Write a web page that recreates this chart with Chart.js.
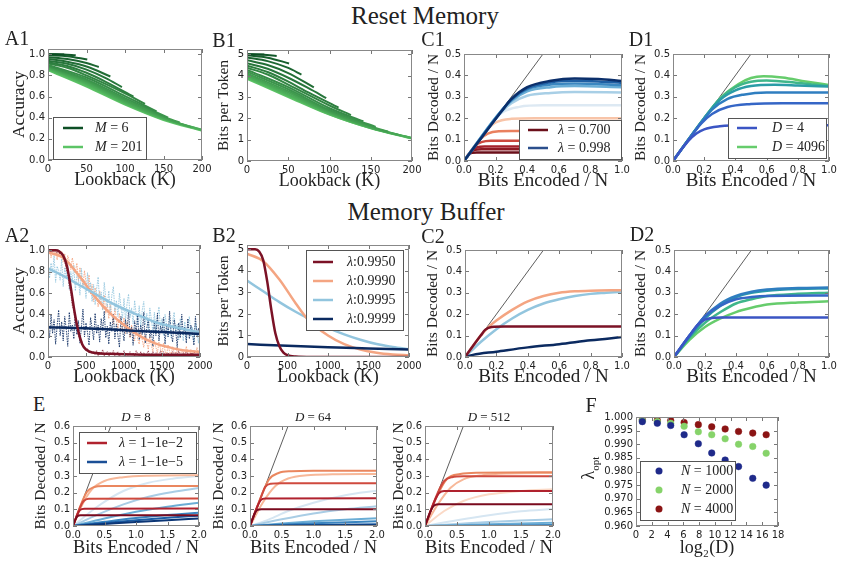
<!DOCTYPE html>
<html>
<head>
<meta charset="utf-8">
<script src="https://cdn.jsdelivr.net/npm/chart.js@4.4.0/dist/chart.umd.min.js"></script>
<style>
  body { margin: 0; background: #fff; width: 842px; height: 564px; position: relative; overflow: hidden; }
  canvas { position: absolute; }
  .lbl { position: absolute; font-family: 'Liberation Serif', serif; color: #222; white-space: nowrap; line-height: 1; }
</style>
</head>
<body>
<script>
// ---- tick values ----
const lookbackShort = [0, 50, 100, 150, 200];
const lookbackLong = [0, 500, 1000, 1500, 2000];
const accTicks = [0, 0.2, 0.4, 0.6, 0.8, 1.0];
const bitsTicks = [0, 1, 2, 3, 4, 5];
const encTicks = [0, 0.2, 0.4, 0.6, 0.8, 1.0];
const decTicks = [0, 0.1, 0.2, 0.3, 0.4, 0.5];
const eEncTicks = [0, 0.5, 1.0, 1.5, 2.0];
const eDecTicks = [0, 0.1, 0.2, 0.3, 0.4, 0.5, 0.6];
const fXTicks = [0, 2, 4, 6, 8, 10, 12, 14, 16, 18];
const fYTicks = [0.960, 0.965, 0.970, 0.975, 0.980, 0.985, 0.990, 0.995, 1.000];

// ---- A1 / B1 : reset memory, one curve per M (M=6 ... M=201) ----
const a1Curves = [
  [[0, 1.0], [10, 1.0], [21, 0.998]],
  [[0, 1.0], [20, 0.998], [36, 0.99]],
  [[0, 0.99], [25, 0.982], [51, 0.95]],
  [[0, 0.972], [25, 0.955], [50, 0.918], [66, 0.88]],
  [[0, 0.955], [25, 0.93], [50, 0.885], [81, 0.79]],
  [[0, 0.938], [25, 0.91], [50, 0.855], [75, 0.775], [96, 0.69]],
  [[0, 0.924], [25, 0.89], [50, 0.825], [75, 0.74], [111, 0.60]],
  [[0, 0.912], [25, 0.872], [50, 0.80], [100, 0.63], [126, 0.53]],
  [[0, 0.90], [50, 0.78], [100, 0.605], [141, 0.46]],
  [[0, 0.89], [50, 0.763], [100, 0.585], [156, 0.40]],
  [[0, 0.882], [50, 0.75], [100, 0.57], [150, 0.41], [171, 0.355]],
  [[0, 0.875], [50, 0.737], [100, 0.557], [150, 0.40], [186, 0.31]],
  [[0, 0.868], [50, 0.725], [100, 0.546], [150, 0.394], [200, 0.286]],
  [[0, 0.862], [50, 0.715], [100, 0.538], [150, 0.389], [200, 0.283]],
  [[0, 0.856], [50, 0.705], [100, 0.531], [150, 0.384], [200, 0.28]],
  [[0, 0.85], [50, 0.695], [100, 0.524], [150, 0.379], [200, 0.277]]
];
const b1Curves = [
  [[0, 5.0], [21, 4.99]],
  [[0, 5.0], [20, 4.98], [36, 4.92]],
  [[0, 4.95], [25, 4.84], [51, 4.57]],
  [[0, 4.85], [25, 4.68], [50, 4.36], [66, 4.05]],
  [[0, 4.72], [25, 4.5], [50, 4.12], [81, 3.45]],
  [[0, 4.58], [25, 4.32], [50, 3.9], [75, 3.4], [96, 2.95]],
  [[0, 4.47], [25, 4.17], [50, 3.72], [75, 3.2], [111, 2.5]],
  [[0, 4.37], [25, 4.05], [50, 3.58], [100, 2.6], [126, 2.15]],
  [[0, 4.27], [50, 3.46], [100, 2.47], [141, 1.86]],
  [[0, 4.18], [50, 3.36], [100, 2.39], [156, 1.6]],
  [[0, 4.1], [50, 3.27], [100, 2.33], [150, 1.62], [171, 1.38]],
  [[0, 4.03], [50, 3.2], [100, 2.28], [150, 1.58], [186, 1.2]],
  [[0, 3.97], [50, 3.13], [100, 2.24], [150, 1.56], [200, 1.08]],
  [[0, 3.93], [50, 3.08], [100, 2.21], [150, 1.55], [200, 1.07]],
  [[0, 3.89], [50, 3.04], [100, 2.19], [150, 1.54], [200, 1.06]],
  [[0, 3.85], [50, 3.0], [100, 2.17], [150, 1.53], [200, 1.05]]
];
const mLegend = ['M = 6', 'M = 201'];

// ---- C1 : one curve per lambda, 0.700 (dark red) ... 0.998 (navy) ----
const c1Curves = [
  [[0, 0], [0.03, 0.029], [0.05, 0.038], [0.08, 0.04], [1, 0.04]],
  [[0, 0], [0.04, 0.04], [0.07, 0.052], [0.11, 0.055], [1, 0.055]],
  [[0, 0], [0.05, 0.05], [0.08, 0.063], [0.13, 0.068], [1, 0.068]],
  [[0, 0], [0.07, 0.07], [0.11, 0.088], [0.17, 0.095], [1, 0.095]],
  [[0, 0], [0.1, 0.1], [0.15, 0.128], [0.22, 0.139], [0.3, 0.14], [1, 0.14]],
  [[0, 0], [0.14, 0.14], [0.2, 0.18], [0.3, 0.197], [0.45, 0.2], [1, 0.2]],
  [[0, 0], [0.18, 0.18], [0.25, 0.23], [0.35, 0.253], [0.5, 0.26], [1, 0.26]],
  [[0, 0], [0.2, 0.2], [0.3, 0.27], [0.4, 0.305], [0.55, 0.318], [0.7, 0.322], [1, 0.32]],
  [[0, 0], [0.22, 0.22], [0.3, 0.28], [0.4, 0.325], [0.55, 0.345], [0.7, 0.35], [1, 0.345]],
  [[0, 0], [0.22, 0.22], [0.3, 0.285], [0.4, 0.335], [0.55, 0.357], [0.7, 0.362], [1, 0.355]],
  [[0, 0], [0.24, 0.235], [0.3, 0.288], [0.4, 0.34], [0.55, 0.368], [0.7, 0.375], [0.85, 0.372], [1, 0.365]],
  [[0, 0], [0.24, 0.235], [0.3, 0.29], [0.4, 0.345], [0.55, 0.375], [0.7, 0.386], [0.85, 0.383], [1, 0.374]]
];
const c1Colors = ['#6b0f1a', '#8c1a24', '#a4222c', '#cc4a3f', '#e9805f', '#f8c4a8',
  '#dde9f3', '#a8cfe6', '#6aaed6', '#3b87c0', '#1f5fa3', '#0b2f6b'];
const c1Legend = ['λ = 0.700', 'λ = 0.998'];

// ---- D1 : one curve per D (4 ... 4096) ----
const d1Curves = [
  [[0, 0], [0.05, 0.05], [0.1, 0.095], [0.15, 0.128], [0.2, 0.148], [0.3, 0.162], [0.45, 0.167], [1, 0.167]],
  [[0, 0], [0.1, 0.1], [0.18, 0.175], [0.25, 0.22], [0.35, 0.252], [0.5, 0.266], [0.7, 0.27], [1, 0.27]],
  [[0, 0], [0.15, 0.15], [0.25, 0.24], [0.35, 0.29], [0.45, 0.31], [0.6, 0.32], [1, 0.32]],
  [[0, 0], [0.2, 0.2], [0.3, 0.285], [0.4, 0.33], [0.5, 0.35], [0.65, 0.356], [0.8, 0.353], [1, 0.348]],
  [[0, 0], [0.2, 0.2], [0.3, 0.29], [0.4, 0.345], [0.5, 0.37], [0.6, 0.376], [0.8, 0.365], [1, 0.35]],
  [[0, 0], [0.22, 0.22], [0.32, 0.305], [0.42, 0.36], [0.5, 0.388], [0.58, 0.396], [0.7, 0.39], [0.85, 0.372], [1, 0.355]]
];
const dColors = ['#3b55c4', '#3566c6', '#2f7ec0', '#2a9ca6', '#3fb68a', '#66cc6c'];
const d1Legend = ['D = 4', 'D = 4096'];

// ---- A2 / B2 / C2 : memory buffer, lambda = 0.9950, 0.9990, 0.9995, 0.9999 ----
const bufLegend = ['λ:0.9950', 'λ:0.9990', 'λ:0.9995', 'λ:0.9999'];
const bufColors = ['#7b1226', '#f4a582', '#92c5de', '#0b2a60'];
const a2Smooth = [
  [[0, 1.0], [100, 1.0], [150, 0.99], [200, 0.95], [250, 0.85], [300, 0.65], [350, 0.42], [400, 0.24], [450, 0.12], [500, 0.07], [600, 0.04], [800, 0.03], [1000, 0.025], [1500, 0.02], [2000, 0.02]],
  [[0, 0.98], [200, 0.93], [400, 0.77], [600, 0.58], [800, 0.42], [1000, 0.30], [1200, 0.20], [1400, 0.13], [1600, 0.09], [1800, 0.06], [2000, 0.05]],
  [[0, 0.83], [200, 0.76], [400, 0.68], [600, 0.60], [800, 0.52], [1000, 0.45], [1200, 0.39], [1400, 0.33], [1600, 0.29], [1800, 0.26], [2000, 0.23]],
  [[0, 0.28], [500, 0.27], [1000, 0.25], [1500, 0.235], [2000, 0.215]]
];
// raw accuracy, one value every 20 tokens of lookback
const a2Lookback = Array.from({ length: 101 }, (_, i) => i * 20);
const a2RawRed = [
  1.0, 1.0, 0.98, 1.0, 0.99, 1.0, 0.97, 1.0, 0.95, 0.98,
  0.93, 0.90, 0.82, 0.78, 0.66, 0.60, 0.48, 0.44, 0.30, 0.28,
  0.20, 0.15, 0.16, 0.10, 0.09, 0.06, 0.08, 0.04, 0.05, 0.03,
  0.05, 0.02, 0.06, 0.01, 0.04, 0.03, 0.07, 0.01, 0.03, 0.05,
  0.00, 0.04, 0.02, 0.06, 0.01, 0.03, 0.05, 0.00, 0.04, 0.02,
  0.06, 0.01, 0.03, 0.00, 0.05, 0.02, 0.04, 0.01, 0.06, 0.03,
  0.00, 0.05, 0.02, 0.04, 0.01, 0.03, 0.06, 0.00, 0.02, 0.05,
  0.01, 0.04, 0.03, 0.00, 0.06, 0.02, 0.05, 0.01, 0.03, 0.04,
  0.00, 0.02, 0.05, 0.01, 0.04, 0.03, 0.06, 0.00, 0.02, 0.04,
  0.01, 0.05, 0.03, 0.00, 0.04, 0.02, 0.06, 0.01, 0.03, 0.02, 0.04
];
const a2RawOrange = [
  0.97, 1.00, 0.93, 0.99, 0.95, 1.00, 0.91, 0.98, 0.94, 0.99,
  0.89, 0.97, 0.86, 0.95, 0.90, 0.82, 0.93, 0.85, 0.79, 0.88,
  0.71, 0.84, 0.76, 0.66, 0.81, 0.70, 0.63, 0.77, 0.59, 0.68,
  0.52, 0.65, 0.57, 0.47, 0.62, 0.51, 0.44, 0.58, 0.41, 0.50,
  0.36, 0.49, 0.40, 0.31, 0.46, 0.35, 0.27, 0.41, 0.30, 0.24,
  0.37, 0.22, 0.33, 0.26, 0.18, 0.30, 0.21, 0.15, 0.27, 0.17,
  0.12, 0.24, 0.16, 0.09, 0.21, 0.13, 0.07, 0.19, 0.11, 0.05,
  0.16, 0.09, 0.04, 0.14, 0.08, 0.03, 0.13, 0.06, 0.02, 0.11,
  0.05, 0.02, 0.10, 0.04, 0.01, 0.09, 0.03, 0.00, 0.08, 0.04,
  0.01, 0.10, 0.03, 0.00, 0.07, 0.02, 0.06, 0.00, 0.09, 0.03, 0.05
];
const a2RawLightBlue = [
  0.90, 0.74, 0.88, 0.79, 0.95, 0.70, 0.85, 0.81, 0.72, 0.92,
  0.66, 0.84, 0.75, 0.88, 0.63, 0.80, 0.71, 0.86, 0.62, 0.77,
  0.74, 0.58, 0.83, 0.65, 0.72, 0.55, 0.79, 0.60, 0.70, 0.52,
  0.68, 0.49, 0.64, 0.75, 0.50, 0.61, 0.44, 0.70, 0.55, 0.47,
  0.62, 0.41, 0.58, 0.66, 0.43, 0.53, 0.38, 0.60, 0.47, 0.36,
  0.55, 0.34, 0.50, 0.59, 0.37, 0.46, 0.31, 0.53, 0.40, 0.30,
  0.48, 0.28, 0.44, 0.52, 0.30, 0.41, 0.25, 0.46, 0.35, 0.24,
  0.42, 0.22, 0.38, 0.47, 0.26, 0.36, 0.20, 0.40, 0.30, 0.19,
  0.37, 0.18, 0.34, 0.42, 0.21, 0.31, 0.16, 0.36, 0.27, 0.15,
  0.33, 0.17, 0.30, 0.38, 0.19, 0.28, 0.14, 0.32, 0.24, 0.13, 0.27
];
const a2RawNavy = [
  0.31, 0.18, 0.40, 0.22, 0.35, 0.12, 0.29, 0.44, 0.20, 0.33,
  0.15, 0.38, 0.26, 0.10, 0.42, 0.24, 0.30, 0.17, 0.39, 0.21,
  0.34, 0.13, 0.28, 0.45, 0.19, 0.32, 0.23, 0.11, 0.37, 0.27,
  0.16, 0.41, 0.22, 0.30, 0.14, 0.36, 0.25, 0.43, 0.18, 0.29,
  0.12, 0.33, 0.24, 0.40, 0.17, 0.31, 0.20, 0.09, 0.38, 0.26,
  0.15, 0.35, 0.22, 0.44, 0.19, 0.28, 0.11, 0.34, 0.23, 0.39,
  0.16, 0.30, 0.21, 0.42, 0.13, 0.27, 0.36, 0.18, 0.25, 0.10,
  0.33, 0.20, 0.41, 0.15, 0.29, 0.24, 0.37, 0.12, 0.31, 0.19,
  0.43, 0.22, 0.14, 0.35, 0.26, 0.09, 0.32, 0.18, 0.40, 0.21,
  0.28, 0.13, 0.36, 0.17, 0.30, 0.23, 0.11, 0.38, 0.20, 0.27, 0.16
];
const b2Curves = [
  [[0, 5.0], [100, 5.0], [150, 4.9], [200, 4.5], [250, 3.5], [300, 2.2], [350, 1.1], [400, 0.5], [450, 0.2], [500, 0.08], [600, 0.02], [800, 0.0], [2000, 0.0]],
  [[0, 4.8], [200, 4.45], [400, 3.6], [600, 2.5], [750, 1.75], [1000, 1.0], [1200, 0.6], [1400, 0.35], [1600, 0.2], [1800, 0.12], [2000, 0.08]],
  [[0, 3.55], [200, 3.05], [400, 2.55], [600, 2.1], [750, 1.8], [1000, 1.35], [1200, 1.05], [1400, 0.8], [1600, 0.6], [1800, 0.47], [2000, 0.36]],
  [[0, 0.6], [500, 0.52], [1000, 0.45], [1500, 0.4], [2000, 0.35]]
];
const c2Curves = [
  [[0, 0], [0.1, 0.1], [0.13, 0.128], [0.17, 0.14], [0.25, 0.142], [1, 0.142]],
  [[0, 0], [0.1, 0.1], [0.15, 0.14], [0.2, 0.17], [0.3, 0.22], [0.4, 0.26], [0.5, 0.285], [0.6, 0.3], [0.7, 0.307], [0.8, 0.31], [1, 0.312]],
  [[0, 0], [0.1, 0.07], [0.2, 0.13], [0.3, 0.18], [0.4, 0.22], [0.5, 0.25], [0.6, 0.27], [0.7, 0.285], [0.8, 0.295], [0.9, 0.30], [1, 0.305]],
  [[0, 0], [0.05, 0.01], [0.2, 0.025], [0.4, 0.045], [0.6, 0.06], [0.8, 0.078], [1, 0.093]]
];

// ---- D2 : memory buffer, one curve per D ----
const d2Curves = [
  [[0, 0], [0.1, 0.1], [0.15, 0.148], [0.2, 0.175], [0.3, 0.185], [1, 0.185]],
  [[0, 0], [0.1, 0.1], [0.2, 0.19], [0.3, 0.24], [0.4, 0.27], [0.5, 0.28], [0.6, 0.285], [1, 0.287]],
  [[0, 0], [0.1, 0.1], [0.2, 0.19], [0.3, 0.25], [0.4, 0.285], [0.5, 0.305], [0.6, 0.315], [0.8, 0.322], [1, 0.325]],
  [[0, 0], [0.1, 0.095], [0.2, 0.18], [0.3, 0.24], [0.4, 0.28], [0.5, 0.3], [0.6, 0.31], [0.8, 0.318], [1, 0.32]],
  [[0, 0], [0.1, 0.09], [0.2, 0.16], [0.3, 0.21], [0.4, 0.25], [0.5, 0.27], [0.6, 0.285], [0.8, 0.295], [1, 0.30]],
  [[0, 0], [0.1, 0.08], [0.2, 0.14], [0.3, 0.18], [0.4, 0.21], [0.5, 0.23], [0.6, 0.245], [0.8, 0.255], [1, 0.26]]
];

// ---- E : lambda sweep at D = 8, 64, 512 (reds: 1-1e-2 side, blues: 1-1e-5 side) ----
const eRedColors = ['#7a0a1e', '#b0222e', '#cf4a3e', '#ea875f', '#f7b899', '#fbd9c6'];
const eBlueColors = ['#d6e6f2', '#a9cde5', '#6badd5', '#3a85c0', '#1b5ea6', '#0b3575'];
const eLegend = ['λ = 1−1e−2', 'λ = 1−1e−5'];
const eTitles = ['D = 8', 'D = 64', 'D = 512'];
const e1Red = [
  [[0, 0], [0.04, 0.04], [0.07, 0.058], [0.12, 0.064], [2, 0.065]],
  [[0, 0], [0.07, 0.07], [0.11, 0.095], [0.18, 0.104], [2, 0.105]],
  [[0, 0], [0.11, 0.11], [0.17, 0.15], [0.25, 0.163], [2, 0.165]],
  [[0, 0], [0.15, 0.15], [0.22, 0.205], [0.32, 0.232], [0.5, 0.24], [2, 0.24]],
  [[0, 0], [0.15, 0.13], [0.3, 0.22], [0.5, 0.27], [0.8, 0.293], [1.2, 0.302], [2, 0.305]]
];
const e1Blue = [
  [[0, 0], [0.4, 0.12], [0.8, 0.21], [1.2, 0.26], [1.6, 0.285], [2, 0.3]],
  [[0, 0], [0.4, 0.07], [0.8, 0.13], [1.2, 0.175], [1.6, 0.205], [2, 0.228]],
  [[0, 0], [0.5, 0.045], [1, 0.085], [1.5, 0.115], [2, 0.14]],
  [[0, 0], [0.5, 0.025], [1, 0.048], [1.5, 0.066], [2, 0.08]],
  [[0, 0], [0.5, 0.018], [1, 0.035], [1.5, 0.05], [2, 0.062]],
  [[0, 0], [0.5, 0.012], [1, 0.024], [1.5, 0.035], [2, 0.045]]
];
const e2Red = [
  [[0, 0], [0.08, 0.08], [0.12, 0.097], [0.18, 0.1], [2, 0.1]],
  [[0, 0], [0.12, 0.12], [0.17, 0.155], [0.24, 0.165], [2, 0.166]],
  [[0, 0], [0.17, 0.17], [0.24, 0.235], [0.33, 0.254], [0.5, 0.257], [2, 0.257]],
  [[0, 0], [0.2, 0.2], [0.3, 0.28], [0.45, 0.318], [0.65, 0.329], [1, 0.332], [2, 0.332]],
  [[0, 0], [0.2, 0.14], [0.4, 0.24], [0.6, 0.285], [0.9, 0.305], [1.3, 0.31], [2, 0.312]]
];
const e2Blue = [
  [[0, 0], [0.3, 0.04], [0.6, 0.09], [1, 0.14], [1.5, 0.185], [2, 0.212]],
  [[0, 0], [0.5, 0.04], [1, 0.075], [1.5, 0.1], [2, 0.118]],
  [[0, 0], [0.5, 0.015], [1, 0.028], [1.5, 0.038], [2, 0.046]],
  [[0, 0], [1, 0.016], [2, 0.028]],
  [[0, 0], [1, 0.006], [2, 0.01]],
  [[0, 0], [1, 0.003], [2, 0.005]]
];
const e3Red = [
  [[0, 0], [0.1, 0.1], [0.15, 0.125], [0.22, 0.13], [2, 0.13]],
  [[0, 0], [0.15, 0.15], [0.22, 0.198], [0.3, 0.21], [2, 0.21]],
  [[0, 0], [0.2, 0.2], [0.3, 0.27], [0.42, 0.293], [0.6, 0.298], [2, 0.298]],
  [[0, 0], [0.2, 0.19], [0.35, 0.285], [0.55, 0.312], [0.8, 0.32], [2, 0.322]],
  [[0, 0], [0.2, 0.13], [0.4, 0.23], [0.6, 0.28], [0.9, 0.305], [1.3, 0.315], [2, 0.318]],
  [[0, 0], [0.3, 0.09], [0.6, 0.15], [1, 0.19], [1.5, 0.21], [2, 0.22]]
];
const e3Blue = [
  [[0, 0], [0.5, 0.035], [1, 0.065], [1.5, 0.088], [2, 0.102]],
  [[0, 0], [0.5, 0.012], [1, 0.024], [1.5, 0.033], [2, 0.04]],
  [[0, 0], [1, 0.01], [2, 0.02]],
  [[0, 0], [1, 0.003], [2, 0.006]]
];

// ---- F : optimal lambda vs log2(D) ----
const fLog2D = [0.8, 2.7, 4.4, 6.1, 7.9, 9.6, 11.3, 13.0, 14.8, 16.5];
const fN1000 = [0.9983, 0.9977, 0.9969, 0.9935, 0.9902, 0.9868, 0.9842, 0.9818, 0.9775, 0.9750];
const fN2000 = [0.9987, 0.9983, 0.9977, 0.9966, 0.9946, 0.9935, 0.9920, 0.9900, 0.9892, 0.9867];
const fN4000 = [0.9990, 0.9988, 0.9987, 0.9980, 0.9972, 0.9964, 0.9956, 0.9947, 0.9941, 0.9935];
const fLegend = ['N = 1000', 'N = 2000', 'N = 4000'];
const fColors = ['#1f2a8a', '#86d36a', '#8b1414'];

// ---------------------------------------------------------------------
const PAD_L = 46, PAD_R = 16, PAD_T = 6, PAD_B = 34;
const SERIF = "'Liberation Serif', serif";

function mix(a, b, t) {
  const p = h => [1, 3, 5].map(i => parseInt(h.slice(i, i + 2), 16));
  const [ca, cb] = [p(a), p(b)];
  return 'rgb(' + ca.map((v, i) => Math.round(v + (cb[i] - v) * t)).join(',') + ')';
}

function curve(points, color, width, extra) {
  return Object.assign({
    data: points.map(([x, y]) => ({ x, y })),
    borderColor: color, borderWidth: width, pointRadius: 0, fill: false,
    cubicInterpolationMode: 'monotone'
  }, extra || {});
}

function raw(xs, ys, color) {
  return {
    data: xs.map((x, i) => ({ x, y: ys[i] })),
    borderColor: color, borderWidth: 1, borderDash: [1.5, 1], pointRadius: 0, fill: false, tension: 0
  };
}

function diagonal(top) {
  return curve([[0, 0], [top, top]], '#333', 0.8, { cubicInterpolationMode: 'default' });
}

function axisOpts(kind, a) {
  return {
    type: 'linear', min: a.min, max: a.max,
    afterBuildTicks: s => { s.ticks = a.ticks.map(v => ({ value: v })); },
    afterFit: s => { if (kind === 'x') s.height = PAD_B; else s.width = PAD_L; },
    grid: { display: false, drawTicks: false },
    border: { display: false },
    ticks: {
      autoSkip: false, maxRotation: 0, padding: 3, color: '#222',
      font: { family: 'DejaVu Sans', size: 10 },
      callback: v => Number(v).toFixed(a.dec)
    },
    title: {
      display: !!a.title, text: a.title || '', color: '#222',
      font: { family: SERIF, size: a.ts || 18 },
      padding: kind === 'x' ? { top: 0, bottom: a.tp ?? 3 } : { top: a.tp ?? 6, bottom: 0 }
    }
  };
}

function drawLegend(ctx, area, lg) {
  const x0 = Math.round(area.left + lg.x), y0 = Math.round(area.top + lg.y);
  ctx.fillStyle = '#fff';
  ctx.fillRect(x0, y0, lg.w, lg.h);
  ctx.strokeStyle = '#555';
  ctx.lineWidth = 1;
  ctx.strokeRect(x0 + 0.5, y0 + 0.5, lg.w, lg.h);
  lg.items.forEach((it, i) => {
    const cy = y0 + lg.row0 + i * lg.gap;
    if (lg.dots) {
      ctx.fillStyle = it.color;
      ctx.beginPath();
      ctx.arc(x0 + lg.sx, cy, 3.5, 0, Math.PI * 2);
      ctx.fill();
    } else {
      ctx.strokeStyle = it.color;
      ctx.lineWidth = 2.5;
      ctx.beginPath();
      ctx.moveTo(x0 + lg.sx, cy);
      ctx.lineTo(x0 + lg.sx + 20, cy);
      ctx.stroke();
    }
    // leading symbol in italics, the rest upright
    ctx.fillStyle = '#222';
    ctx.textBaseline = 'middle';
    ctx.font = 'italic 14px ' + SERIF;
    const sym = it.label[0];
    ctx.fillText(sym, x0 + lg.tx, cy);
    const w = ctx.measureText(sym).width;
    ctx.font = '14px ' + SERIF;
    ctx.fillText(it.label.slice(1), x0 + lg.tx + w, cy);
  });
}

// frame, inward tick marks and in-axes legend
const decor = {
  id: 'decor',
  afterDraw(chart, args, opts) {
    const { ctx, chartArea: a, scales: { x, y } } = chart;
    ctx.save();
    ctx.strokeStyle = '#777';
    ctx.lineWidth = 1;
    ctx.beginPath();
    x.ticks.forEach(t => {
      const px = Math.round(x.getPixelForValue(t.value)) + 0.5;
      ctx.moveTo(px, a.bottom); ctx.lineTo(px, a.bottom - 4);
      ctx.moveTo(px, a.top); ctx.lineTo(px, a.top + 4);
    });
    y.ticks.forEach(t => {
      const py = Math.round(y.getPixelForValue(t.value)) + 0.5;
      ctx.moveTo(a.left, py); ctx.lineTo(a.left + 4, py);
      ctx.moveTo(a.right, py); ctx.lineTo(a.right - 4, py);
    });
    ctx.stroke();
    ctx.strokeStyle = '#888';
    ctx.strokeRect(Math.round(a.left) + 0.5, Math.round(a.top) + 0.5, Math.round(a.width) - 1, Math.round(a.height) - 1);
    if (opts.legend) drawLegend(ctx, a, opts.legend);
    ctx.restore();
  }
};

function panel(box, xa, ya, datasets, legend, type) {
  const [l, t, r, b] = box;
  const w = r - l + PAD_L + PAD_R, h = b - t + PAD_T + PAD_B;
  const c = document.createElement('canvas');
  c.width = w; c.height = h;
  c.style.left = (l - PAD_L) + 'px';
  c.style.top = (t - PAD_T) + 'px';
  document.body.appendChild(c);
  return new Chart(c, {
    type: type || 'line',
    data: { datasets },
    options: {
      responsive: false, animation: false, events: [],
      layout: { padding: { top: PAD_T, right: PAD_R, left: 0, bottom: 0 } },
      plugins: { legend: { display: false }, tooltip: { enabled: false }, decor: { legend } },
      scales: { x: axisOpts('x', xa), y: axisOpts('y', ya) }
    },
    plugins: [decor]
  });
}

function addText(html, cx, cy, size, rot, italic) {
  const d = document.createElement('div');
  d.className = 'lbl';
  d.innerHTML = html;
  d.style.left = cx + 'px';
  d.style.top = cy + 'px';
  d.style.fontSize = size + 'px';
  if (italic) d.style.fontStyle = 'italic';
  d.style.transform = 'translate(-50%,-50%)' + (rot ? ' rotate(' + rot + 'deg)' : '');
  document.body.appendChild(d);
}

const greenDark = '#0d4f25', greenLight = '#5cc466';
const greens = a1Curves.map((_, i) => mix(greenDark, greenLight, i / (a1Curves.length - 1)));

const xLook = { min: 0, max: 200, ticks: lookbackShort, dec: 0, title: 'Lookback (K)', ts: 18 };
const xLookLong = { min: 0, max: 2000, ticks: lookbackLong, dec: 0, title: 'Lookback (K)', ts: 18 };
const xEnc = { min: 0, max: 1, ticks: encTicks, dec: 1, title: 'Bits Encoded / N', ts: 19 };
const yDec = tp => ({ min: 0, max: 0.5, ticks: decTicks, dec: 1, title: 'Bits Decoded / N', ts: 15.5, tp });
const yAcc = { min: 0, max: 1.05, ticks: accTicks, dec: 1, title: 'Accuracy', ts: 17.5, tp: 7 };
const yBits = { min: 0, max: 5.2, ticks: bitsTicks, dec: 0, title: 'Bits per Token', ts: 15.5, tp: 14 };

// A1
panel([48, 46, 202, 160], xLook, yAcc,
  a1Curves.map((c, i) => curve(c, greens[i], 2)),
  { x: 5, y: 68, w: 93, h: 42, row0: 11, gap: 19, sx: 10, tx: 42,
    items: [{ label: mLegend[0], color: greenDark }, { label: mLegend[1], color: greenLight }] });

// B1
panel([247, 47, 412, 161], xLook, yBits,
  b1Curves.map((c, i) => curve(c, greens[i], 2)));

// C1
panel([464, 51, 622, 161], xEnc, yDec(7),
  c1Curves.map((c, i) => curve(c, c1Colors[i], 2.5)).reverse().concat([diagonal(0.5)]),
  { x: 55, y: 66, w: 102, h: 39, row0: 10, gap: 18, sx: 9, tx: 39,
    items: [{ label: c1Legend[0], color: c1Colors[0] }, { label: c1Legend[1], color: '#2b4f8c' }] });

// D1
panel([673, 51, 829, 161], xEnc, yDec(5),
  d1Curves.map((c, i) => curve(c, dColors[i], 2.5)).concat([diagonal(0.5)]),
  { x: 55, y: 64, w: 98, h: 40, row0: 10, gap: 19, sx: 9, tx: 44,
    items: [{ label: d1Legend[0], color: dColors[0] }, { label: d1Legend[1], color: dColors[5] }] });

// A2
panel([48, 242, 200, 357], xLookLong, yAcc,
  [curve(a2Smooth[0], bufColors[0], 2.5), curve(a2Smooth[3], bufColors[3], 2.5),
   curve(a2Smooth[2], bufColors[2], 2.5), curve(a2Smooth[1], bufColors[1], 2.5),
   raw(a2Lookback, a2RawNavy, 'rgba(11,42,96,0.85)'),
   raw(a2Lookback, a2RawRed, 'rgba(123,18,38,0.7)'),
   raw(a2Lookback, a2RawLightBlue, 'rgba(146,197,222,0.9)'),
   raw(a2Lookback, a2RawOrange, 'rgba(244,165,130,0.9)')]);

// B2
panel([247, 242, 409, 357], xLookLong, yBits,
  [curve(b2Curves[0], bufColors[0], 2.5), curve(b2Curves[3], bufColors[3], 2.5),
   curve(b2Curves[1], bufColors[1], 2.5), curve(b2Curves[2], bufColors[2], 2.5)],
  { x: 59, y: 5, w: 97, h: 80, row0: 12, gap: 19, sx: 7, tx: 41,
    items: bufLegend.map((label, i) => ({ label, color: bufColors[i] })) });

// C2
panel([465, 247, 622, 357], xEnc, yDec(5),
  [curve(c2Curves[0], bufColors[0], 2.5), curve(c2Curves[3], bufColors[3], 2.5),
   curve(c2Curves[1], bufColors[1], 2.5), curve(c2Curves[2], bufColors[2], 2.5), diagonal(0.5)]);

// D2
panel([674, 247, 829, 357], xEnc, yDec(4),
  d2Curves.map((c, i) => curve(c, dColors[i], 2.5)).concat([diagonal(0.5)]));

// E panels
function eSets(reds, blues) {
  const r = reds.map((c, i) => curve(c, eRedColors[i], 2));
  const b = blues.map((c, i) => curve(c, eBlueColors[i], 2));
  return r.concat(b.reverse()).concat([diagonal(0.6)]);
}
const eX = { min: 0, max: 2, ticks: eEncTicks, dec: 1, title: 'Bits Encoded / N', ts: 19, tp: 1 };
const eY = tp => ({ min: 0, max: 0.6, ticks: eDecTicks, dec: 1, title: 'Bits Decoded / N', ts: 15.5, tp });
panel([73, 423, 199, 526], eX, eY(5),
  eSets(e1Red, e1Blue),
  { x: 6, y: 6, w: 117, h: 41, row0: 11, gap: 19, sx: 8, tx: 40,
    items: [{ label: eLegend[0], color: '#b0222e' }, { label: eLegend[1], color: '#1b4f96' }] });
panel([250, 423, 377, 526], eX, eY(6), eSets(e2Red, e2Blue));
panel([425, 423, 553, 526], eX, eY(11), eSets(e3Red, e3Blue));

// F
const fSeries = [fN1000, fN2000, fN4000];
panel([636, 414, 778, 526],
  { min: 0, max: 18, ticks: fXTicks, dec: 0, title: 'log₂(D)', ts: 18, tp: 1 },
  { min: 0.96, max: 1.0, ticks: fYTicks, dec: 3 },
  fSeries.map((ys, i) => ({
    type: 'scatter', showLine: false,
    data: fLog2D.map((x, j) => ({ x, y: ys[j] })),
    pointRadius: 3.3, pointBackgroundColor: fColors[i], pointBorderColor: fColors[i], pointBorderWidth: 0.5
  })),
  { x: 4, y: 44, w: 95, h: 59, row0: 10, gap: 19, sx: 19, tx: 41, dots: true,
    items: fLegend.map((label, i) => ({ label, color: fColors[i] })) });

// figure text
addText('Reset Memory', 425, 15, 25);
addText('Memory Buffer', 426, 211, 25);
[['A1', 17, 38], ['B1', 224, 40], ['C1', 433, 39], ['D1', 641, 39],
 ['A2', 17, 235], ['B2', 224, 235], ['C2', 433, 236], ['D2', 642, 234],
 ['E', 39, 404], ['F', 591, 405]].forEach(([t, x, y]) => addText(t, x, y, 20));
eTitles.forEach((t, i) => {
  const cx = [136, 313, 489][i];
  addText('<i>' + t[0] + '</i>' + t.slice(1), cx, 416, 13);
});
addText('λ<sub style="font-size:11px">opt</sub>', 590, 468, 18, -90);
</script>
</body>
</html>
